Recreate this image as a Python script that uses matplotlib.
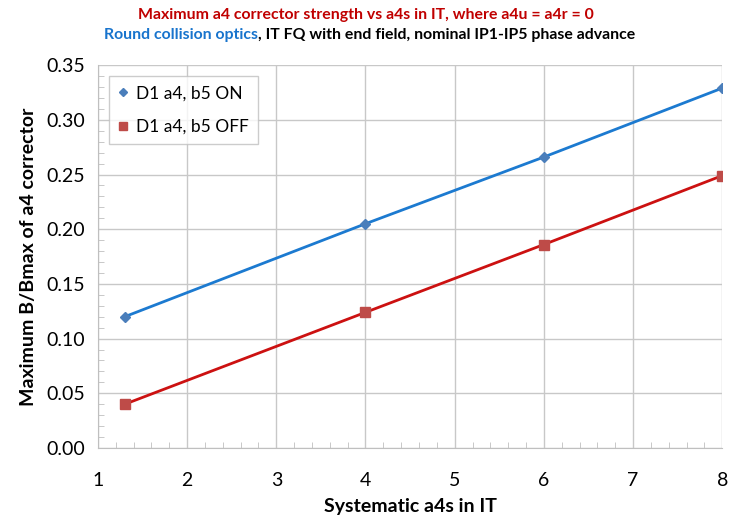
import matplotlib
matplotlib.use("Agg")
import matplotlib.pyplot as plt
from matplotlib.ticker import MultipleLocator, FormatStrFormatter

plt.rcParams['font.family'] = ['Lato', 'DejaVu Sans']

x_on = [1.3, 4, 6, 8]
y_on = [0.12, 0.205, 0.266, 0.329]
x_off = [1.3, 4, 6, 8]
y_off = [0.04, 0.124, 0.186, 0.249]
label_on = "D1 a4, b5 ON"
label_off = "D1 a4, b5 OFF"
title1 = "Maximum a4 corrector strength vs a4s in IT, where a4u = a4r = 0"
title2a = "Round collision optics"
title2b = ", IT FQ with end field, nominal IP1-IP5 phase advance"
xlabel = "Systematic a4s in IT"
ylabel = "Maximum B/Bmax of a4 corrector"

fig = plt.figure(figsize=(7.31, 5.17), dpi=100)
ax = fig.add_axes([0.134, 0.1335, 0.854, 0.7405])

ax.plot(x_on, y_on, color='#1c7ad0', lw=2, marker='D', markersize=5,
        markerfacecolor='#4a7ebb', markeredgecolor='#4a7ebb', label=label_on)
ax.plot(x_off, y_off, color='#cc1111', lw=2, marker='s', markersize=7,
        markerfacecolor='#be4b48', markeredgecolor='#be4b48', label=label_off)

ax.set_xlim(1, 8)
ax.set_ylim(0, 0.35)
ax.xaxis.set_major_locator(MultipleLocator(1))
ax.xaxis.set_minor_locator(MultipleLocator(0.2))
ax.yaxis.set_major_locator(MultipleLocator(0.05))
ax.yaxis.set_minor_locator(MultipleLocator(0.01))
ax.yaxis.set_major_formatter(FormatStrFormatter('%.2f'))
ax.grid(True, which='major', color='#c8c8c8', lw=1)
ax.set_axisbelow(True)
for s in ['top', 'right']:
    ax.spines[s].set_visible(False)
for s in ['left', 'bottom']:
    ax.spines[s].set_color('#bfbfbf')
ax.tick_params(which='both', direction='in', color='#bfbfbf', labelsize=14)
ax.tick_params(which='major', length=0)
ax.tick_params(which='minor', length=4)
ax.tick_params(axis='x', pad=17)
ax.tick_params(axis='y', pad=9)

ax.set_xlabel(xlabel, fontsize=14, fontweight='bold', labelpad=7)
ax.set_ylabel(ylabel, fontsize=14, fontweight='bold', labelpad=7)

leg = ax.legend(loc='upper left', bbox_to_anchor=(0.018, 0.972), fontsize=12.5,
                frameon=True, fancybox=False, edgecolor='#c0c0c0',
                handlelength=0.5, handletextpad=0.5, borderpad=0.55, labelspacing=1.0,
                markerscale=0.85, borderaxespad=0)
leg.get_frame().set_linewidth(1)
for h in leg.legend_handles:
    h.set_linestyle('none')

fig.text(0.5, 1 - 15 / 517, title1, color='#c00000', fontsize=11.4, fontweight='bold',
         ha='center', va='center')

fig.canvas.draw()
r = fig.canvas.get_renderer()
ta = fig.text(0, 1 - 35 / 517, title2a, color='#1874cd', fontsize=11.4, fontweight='bold',
              ha='left', va='center')
tb = fig.text(0, 1 - 35 / 517, title2b, color='black', fontsize=11.4, fontweight='bold',
              ha='left', va='center')
wa = ta.get_window_extent(r).width
wb = tb.get_window_extent(r).width
W = fig.bbox.width
x0 = (W - wa - wb) / 2 + 4
ta.set_x(x0 / W)
tb.set_x((x0 + wa) / W)

fig.savefig('out.png', dpi=100)
